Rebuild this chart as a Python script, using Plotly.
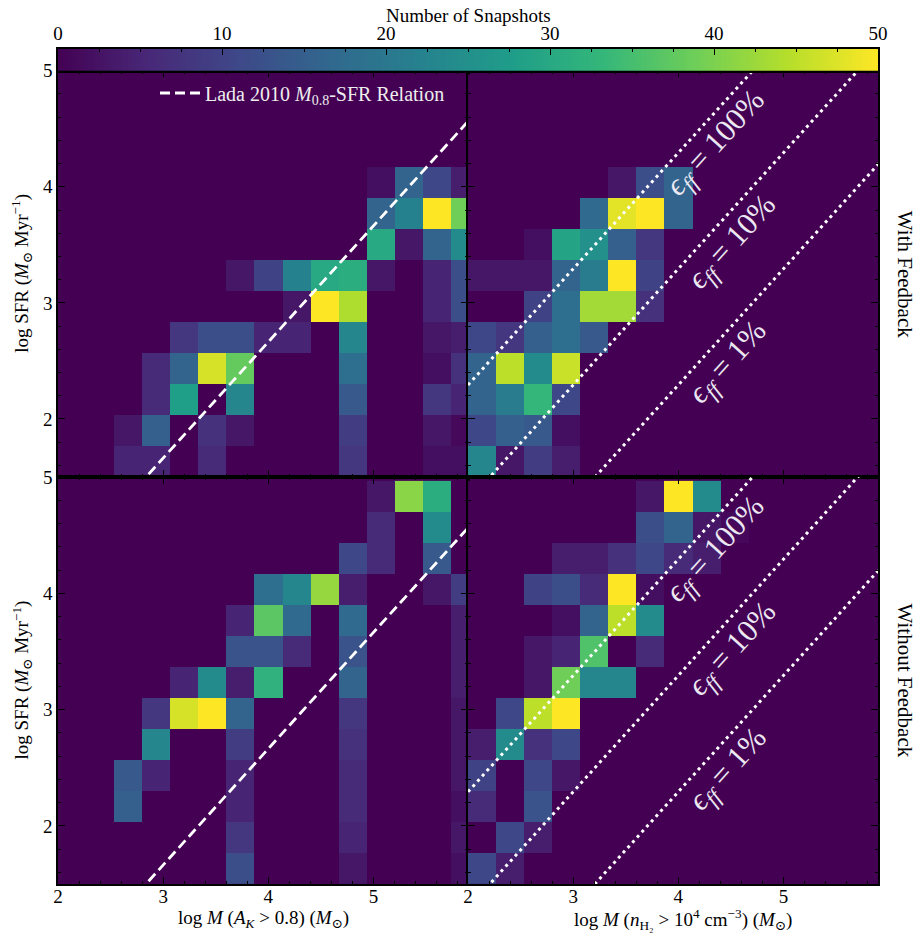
import numpy as np
import plotly.graph_objects as go

# ---------------------------------------------------------------------------
# Histogram binning (dex): 15 mass bins from 2 to 6, 13 SFR bins from 1.5
# ---------------------------------------------------------------------------
mass_edges = np.linspace(2.0, 6.0, 16)
sfr_edges = 1.5 + np.arange(14) * 4.0 / 15.0

# Snapshot counts per (log SFR, log M) bin; rows go from low to high SFR,
# columns from low to high mass.
counts_fb_ak = [
    [0, 0, 5, 5, 0, 6, 0, 0, 0, 0, 8, 0, 0, 2, 2],
    [0, 0, 3, 15, 0, 7, 3, 0, 0, 0, 9, 0, 0, 3, 1],
    [0, 0, 0, 6, 28, 0, 23, 0, 0, 0, 14, 0, 0, 8, 5],
    [0, 0, 0, 6, 16, 47, 38, 0, 0, 0, 18, 0, 0, 2, 7],
    [0, 0, 0, 0, 8, 12, 12, 5, 5, 0, 23, 0, 0, 3, 4],
    [0, 0, 0, 0, 0, 0, 0, 0, 3, 50, 44, 0, 0, 5, 12],
    [0, 0, 0, 0, 0, 0, 3, 10, 22, 30, 31, 3, 0, 5, 12],
    [0, 0, 0, 0, 0, 0, 0, 0, 0, 0, 0, 30, 3, 16, 24],
    [0, 0, 0, 0, 0, 0, 0, 0, 0, 0, 0, 16, 22, 50, 39],
    [0, 0, 0, 0, 0, 0, 0, 0, 0, 0, 0, 2, 16, 11, 4],
    [0] * 15,
    [0] * 15,
    [0] * 15,
]

counts_fb_nh2 = [
    [23, 3, 9, 4, 0, 0, 0, 0, 0, 0, 0, 0, 0, 0, 0],
    [11, 15, 14, 2, 0, 0, 0, 0, 0, 0, 0, 0, 0, 0, 0],
    [16, 21, 33, 11, 0, 0, 0, 0, 0, 0, 0, 0, 0, 0, 0],
    [16, 45, 24, 46, 0, 0, 0, 0, 0, 0, 0, 0, 0, 0, 0],
    [11, 8, 15, 18, 14, 0, 0, 0, 0, 0, 0, 0, 0, 0, 0],
    [0, 0, 10, 18, 43, 43, 7, 0, 0, 0, 0, 0, 0, 0, 0],
    [3, 3, 3, 16, 21, 50, 10, 0, 0, 0, 0, 0, 0, 0, 0],
    [0, 0, 2, 29, 25, 15, 8, 0, 0, 0, 0, 0, 0, 0, 0],
    [0, 0, 0, 0, 17, 48, 50, 16, 0, 0, 0, 0, 0, 0, 0],
    [0, 0, 0, 0, 0, 3, 12, 16, 0, 0, 0, 0, 0, 0, 0],
    [0] * 15,
    [0] * 15,
    [0] * 15,
]

counts_nofb_ak = [
    [0, 0, 0, 0, 0, 0, 12, 0, 0, 0, 3, 0, 0, 0, 2],
    [0, 0, 0, 0, 0, 0, 8, 0, 0, 0, 5, 0, 0, 0, 3],
    [0, 0, 15, 0, 0, 0, 5, 0, 0, 0, 6, 0, 0, 0, 2],
    [0, 0, 14, 5, 0, 0, 5, 0, 0, 0, 6, 0, 0, 0, 3],
    [0, 0, 0, 23, 0, 0, 9, 0, 0, 0, 7, 0, 0, 0, 3],
    [0, 0, 0, 8, 47, 50, 16, 0, 0, 0, 8, 0, 0, 0, 3],
    [0, 0, 0, 0, 5, 24, 4, 32, 0, 0, 16, 0, 0, 0, 4],
    [0, 0, 0, 0, 0, 0, 13, 13, 6, 0, 13, 0, 0, 0, 4],
    [0, 0, 0, 0, 0, 0, 5, 37, 17, 0, 17, 0, 0, 0, 4],
    [0, 0, 0, 0, 0, 0, 0, 18, 23, 42, 4, 0, 0, 3, 9],
    [0, 0, 0, 0, 0, 0, 0, 0, 0, 0, 11, 6, 0, 14, 0],
    [0, 0, 0, 0, 0, 0, 0, 0, 0, 0, 0, 6, 0, 24, 0],
    [0, 0, 0, 0, 0, 0, 0, 0, 0, 0, 0, 3, 41, 31, 0],
]

counts_nofb_nh2 = [
    [11, 4, 0, 0, 0, 0, 0, 0, 0, 0, 0, 0, 0, 0, 0],
    [0, 11, 4, 0, 0, 0, 0, 0, 0, 0, 0, 0, 0, 0, 0],
    [6, 0, 13, 0, 0, 0, 0, 0, 0, 0, 0, 0, 0, 0, 0],
    [10, 0, 11, 3, 0, 0, 0, 0, 0, 0, 0, 0, 0, 0, 0],
    [4, 24, 7, 11, 0, 0, 0, 0, 0, 0, 0, 0, 0, 0, 0],
    [0, 11, 45, 50, 0, 0, 0, 0, 0, 0, 0, 0, 0, 0, 0],
    [0, 0, 3, 39, 23, 23, 0, 0, 0, 0, 0, 0, 0, 0, 0],
    [0, 0, 3, 5, 36, 0, 6, 0, 0, 0, 0, 0, 0, 0, 0],
    [0, 0, 0, 2, 16, 45, 24, 0, 0, 0, 0, 0, 0, 0, 0],
    [0, 0, 10, 12, 6, 50, 2, 0, 0, 0, 0, 0, 0, 0, 0],
    [0, 0, 0, 4, 4, 7, 11, 6, 4, 0, 0, 0, 0, 0, 0],
    [0, 0, 0, 0, 0, 0, 12, 16, 3, 1, 0, 0, 0, 0, 0],
    [0, 0, 0, 0, 0, 0, 3, 50, 24, 0, 0, 0, 0, 0, 0],
]

# Colour-scale limits and ticks
count_min, count_max = 0, 50
count_ticks = [0, 10, 20, 30, 40, 50]

# Axis ticks
mass_ticks = [2, 3, 4, 5]
sfr_ticks = [2, 3, 4, 5]

# Reference relations
lada_coeff = 4.6e-8 * 1e6          # Lada+2010: SFR [Msun/Myr] per Msun above A_K=0.8
t_ff_myr = 0.51                    # free-fall time at n_H2 = 1e4 cm^-3
efficiencies = [1.0, 0.1, 0.01]
efficiency_labels = ["100%", "10%", "1%"]
efficiency_label_mass = [4.36, 4.52, 4.48]
efficiency_label_shift = [-0.28, -0.30, -0.29]

# ---------------------------------------------------------------------------
# Page geometry
# ---------------------------------------------------------------------------
W, H = 924, 936
ML, MR, MT, MB = 58, 46, 49, 52
PW, PH = W - ML - MR, H - MT - MB


def fx(p):
    return (p - ML) / PW


def fy(p):
    return (H - MB - p) / PH


X_SPLIT = fx(468)
Y_SPLIT = fy(477)
Y_TOP = fy(70.7)

FONT = "Liberation Serif, DejaVu Serif, serif"
TXT = 19
VIRIDIS = "Viridis"
BG = "#440154"

fig = go.Figure()

panels = [
    (counts_fb_ak, "x", "y"),
    (counts_fb_nh2, "x2", "y2"),
    (counts_nofb_ak, "x3", "y3"),
    (counts_nofb_nh2, "x4", "y4"),
]
for z, xa, ya in panels:
    fig.add_trace(go.Heatmap(
        x=mass_edges, y=sfr_edges, z=z,
        colorscale=VIRIDIS, zmin=count_min, zmax=count_max,
        showscale=False, hoverinfo="skip", xaxis=xa, yaxis=ya,
    ))

# Lada 2010 relation on the A_K panels
m_line = np.array([2.0, 6.0])
lada_sfr = m_line + np.log10(lada_coeff)
for xa, ya, show in [("x", "y", True), ("x3", "y3", False)]:
    fig.add_trace(go.Scatter(
        x=m_line, y=lada_sfr, mode="lines",
        line=dict(color="white", width=2.8, dash="10px,5px"),
        name="Lada 2010 <i>M</i><sub>0.8</sub>-SFR Relation",
        showlegend=show, hoverinfo="skip", xaxis=xa, yaxis=ya,
    ))

# Constant efficiency-per-free-fall-time lines on the dense-gas panels
annotations = []
for xa, ya in [("x2", "y2"), ("x4", "y4")]:
    for eff, lab, mx, dy in zip(efficiencies, efficiency_labels,
                                efficiency_label_mass, efficiency_label_shift):
        fig.add_trace(go.Scatter(
            x=m_line, y=m_line + np.log10(eff / t_ff_myr), mode="lines",
            line=dict(color="white", width=3, dash="3px,4px"),
            showlegend=False, hoverinfo="skip", xaxis=xa, yaxis=ya,
        ))
        annotations.append(dict(
            x=mx, y=mx + np.log10(eff / t_ff_myr) + dy, xref=xa, yref=ya,
            text="<i>ϵ<sub>ff</sub></i> = " + lab, showarrow=False,
            textangle=-47.9, font=dict(family=FONT, size=31, color="#ece8f2"),
            xanchor="center", yanchor="middle",
        ))

# Colour bar drawn as a thin heatmap strip
cb_edges = np.linspace(count_min, count_max, 257)
cb_levels = 0.5 * (cb_edges[:-1] + cb_edges[1:])
fig.add_trace(go.Heatmap(
    x=cb_edges, y=[0, 1], z=[cb_levels],
    colorscale=VIRIDIS, zmin=count_min, zmax=count_max,
    showscale=False, hoverinfo="skip", xaxis="x5", yaxis="y5",
))

axis_common = dict(
    showline=True, linecolor="black", linewidth=1.5, mirror="allticks",
    ticks="inside", ticklen=7, tickwidth=1.3, tickcolor="black",
    showgrid=False, zeroline=False,
    tickfont=dict(family=FONT, size=TXT, color="black"),
    minor=dict(ticks="inside", ticklen=3.5, tickwidth=1, tickcolor="black",
               dtick=0.2, tick0=0, showgrid=False),
)


def xax(domain, anchor, labels):
    return dict(axis_common, domain=domain, anchor=anchor, range=[2.0, 5.9],
                tickmode="array", tickvals=mass_ticks, showticklabels=labels,
                ticklabelstandoff=-6)


def yax(domain, anchor, labels):
    return dict(axis_common, domain=domain, anchor=anchor, range=[1.5, 5.0],
                tickmode="array", tickvals=sfr_ticks, showticklabels=labels)


def label(x, y, text, angle=0, size=TXT):
    return dict(x=x, y=y, xref="paper", yref="paper", text=text,
                textangle=angle, showarrow=False, xanchor="center",
                yanchor="middle",
                font=dict(family=FONT, size=size, color="black"))


sfr_title = "log SFR (<i>M</i><sub>⊙</sub> Myr<sup>−1</sup>)"
annotations += [
    label(fx(22), (Y_SPLIT + Y_TOP) / 2, sfr_title, -90),
    label(fx(22), Y_SPLIT / 2, sfr_title, -90),
    label(X_SPLIT / 2, fy(919),
          "log <i>M</i> (<i>A<sub>K</sub></i> > 0.8) (<i>M</i><sub>⊙</sub>)"),
    label((X_SPLIT + 1) / 2 + 10 / PW, fy(919),
          "log <i>M</i> (<i>n</i><sub>H₂</sub> > 10<sup>4</sup> cm<sup>−3</sup>) "
          "(<i>M</i><sub>⊙</sub>)"),
    label(fx(905), (Y_SPLIT + Y_TOP) / 2, "With Feedback", 90, TXT + 2),
    label(fx(905), Y_SPLIT / 2, "Without Feedback", 90, TXT + 2),
    label(0.5, fy(15), "Number of Snapshots"),
]

fig.update_layout(
    width=W, height=H,
    margin=dict(l=ML, r=MR, t=MT, b=MB, pad=0),
    paper_bgcolor="white", plot_bgcolor=BG,
    font=dict(family=FONT, size=TXT, color="black"),
    xaxis=xax([0, X_SPLIT], "y", False),
    yaxis=yax([Y_SPLIT, Y_TOP], "x", True),
    xaxis2=xax([X_SPLIT, 1], "y2", False),
    yaxis2=yax([Y_SPLIT, Y_TOP], "x2", False),
    xaxis3=xax([0, X_SPLIT], "y3", True),
    yaxis3=yax([0, Y_SPLIT], "x3", True),
    xaxis4=xax([X_SPLIT, 1], "y4", True),
    yaxis4=yax([0, Y_SPLIT], "x4", False),
    xaxis5=dict(domain=[0, 1], anchor="y5", range=[count_min, count_max],
                side="top", showline=True, linecolor="black", linewidth=1.5,
                mirror=True, ticks="inside", ticklen=6, tickwidth=1.2,
                tickcolor="black", tickmode="array", tickvals=count_ticks,
                showgrid=False, zeroline=False,
                tickfont=dict(family=FONT, size=TXT, color="black"),
                minor=dict(ticks="inside", ticklen=3, tickwidth=1,
                           tickcolor="black", dtick=2.5, tick0=0)),
    yaxis5=dict(domain=[Y_TOP, 1], anchor="x5", range=[0, 1],
                showline=True, linecolor="black", linewidth=1.5, mirror=True,
                ticks="", showticklabels=False, showgrid=False, zeroline=False),
    showlegend=True,
    legend=dict(x=fx(155), y=fy(93), xanchor="left", yanchor="middle",
                bgcolor="rgba(0,0,0,0)", borderwidth=0, itemwidth=40,
                font=dict(family=FONT, size=20, color="#eeeeee")),
    annotations=annotations,
)

fig.write_html("out.html")
